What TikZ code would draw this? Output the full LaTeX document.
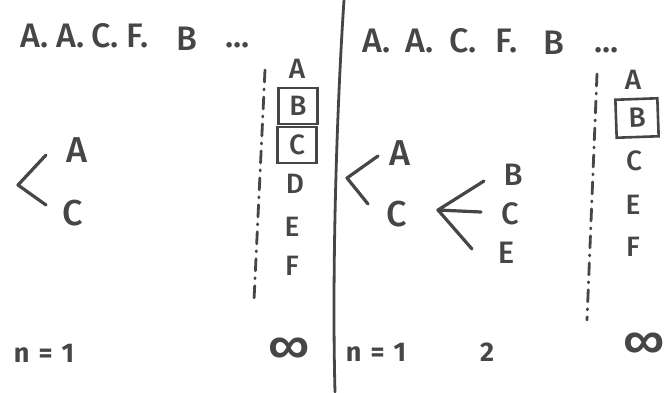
\documentclass[tikz,border=0pt]{standalone}
\usepackage{fontspec}
\setmainfont{Fira Sans Medium}[BoldFont={Fira Sans Bold}]
\definecolor{ink}{HTML}{464646}
\begin{document}
\begin{tikzpicture}[x=1pt,y=-1pt,
  every node/.style={text=ink, inner sep=0pt},
  pen/.style={draw=ink, line width=3.2pt, line cap=round, line join=round},
  seq/.style={font=\fontsize{34}{36}\selectfont, anchor=base west},
  col/.style={font=\fontsize{28}{30}\selectfont},
  tree/.style={font=\fontsize{36}{38}\selectfont},
  small tree/.style={font=\fontsize{31}{33}\selectfont},
  lbl/.style={font=\fontsize{27}{29}\selectfont\bfseries},
  infty/.style={font=\fontsize{46}{46}\selectfont},
  boxed/.style={draw=ink, line width=2.6pt, minimum width=39pt, minimum height=36pt},
  dashdot/.style={draw=ink, line width=2.8pt, line cap=round, dash pattern=on 12pt off 7pt on 1pt off 7pt}]
\useasboundingbox (0,0) rectangle (668,392);
\fill[white] (0,0) rectangle (668,392);

% ---------- left panel ----------
\node[seq] (s1a) at (20,47) {A.};
\node[seq] (s1b) at (56,47) {A.};
\node[seq] (s1c) at (91,47) {C.};
\node[seq] (s1d) at (126,47) {F.};
\node[seq] (s1e) at (176,50) {B};
\node[seq] (s1f) at (225,47) {...};

\coordinate (l1top) at (265,70);
\coordinate (l1bot) at (254,300);
\draw[dashdot] (l1top) -- (l1bot);

\node[col] (c1a) at (297,69) {A};
\node[col, boxed] (c1b) at (298,106) {B};
\node[col, boxed] (c1c) at (297,145) {C};
\node[col] (c1d) at (295,184) {D};
\node[col] (c1e) at (292,227) {E};
\node[col] (c1f) at (292,266) {F};

\node[tree] (t1a) at (77,150) {A};
\node[tree] (t1c) at (73,213) {C};
\coordinate (v1) at (18,185);
\coordinate (v1u) at (46,155);
\coordinate (v1l) at (46,205);
\draw[pen] (v1u) -- (v1) -- (v1l);

\node[lbl] (n1) at (44,353) {n\,\,=\,\,1};
\node[infty] (inf1) at (289,350) {∞};

% ---------- divider ----------
\coordinate (dtop) at (344,0);
\coordinate (dbot) at (335,392);
\draw[pen, line width=2.8pt] (dtop) .. controls (336,120) and (332,280) .. (dbot);

% ---------- right panel ----------
\node[seq] (s2a) at (362,52) {A.};
\node[seq] (s2b) at (405,52) {A.};
\node[seq] (s2c) at (449,52) {C.};
\node[seq] (s2d) at (495,52) {F.};
\node[seq] (s2e) at (543,54) {B};
\node[seq] (s2f) at (594,52) {...};

\coordinate (l2top) at (597,74);
\coordinate (l2bot) at (587,320);
\draw[dashdot] (l2top) -- (l2bot);

\node[col] (c2a) at (633,80) {A};
\node[col, boxed, minimum width=42pt, minimum height=38pt, rotate=2] (c2b) at (637,118) {B};
\node[col] (c2c) at (634,161) {C};
\node[col] (c2e) at (633,205) {E};
\node[col] (c2f) at (633,247) {F};

\node[tree] (t2a) at (400,153) {A};
\node[tree] (t2c) at (397,214) {C};
\coordinate (v2) at (347,178);
\coordinate (v2u) at (378,156);
\coordinate (v2l) at (368,204);
\draw[pen] (v2u) -- (v2) -- (v2l);

\node[small tree] (t2b) at (513,175) {B};
\node[small tree] (t2cc) at (510,214) {C};
\node[small tree] (t2e) at (506,253) {E};
\coordinate (v3) at (438,210);
\coordinate (v3u) at (484,181);
\coordinate (v3m) at (481,212);
\coordinate (v3l) at (472,249);
\draw[pen] (v3u) -- (v3) -- (v3l);
\draw[pen] (v3) -- (v3m);

\node[lbl] (n2) at (376,352) {n\,\,=\,\,1};
\node[lbl] (two) at (487,352) {2};
\node[infty] (inf2) at (644,345) {∞};
\end{tikzpicture}
\end{document}
